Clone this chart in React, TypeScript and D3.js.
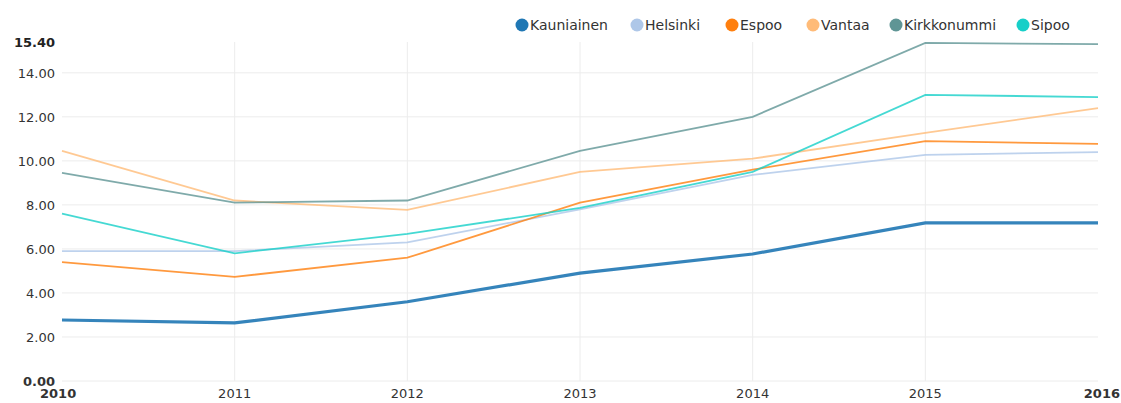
import React from "react";
import * as d3 from "d3";

const years = [2010, 2011, 2012, 2013, 2014, 2015, 2016];
const seriesNames = ["Kauniainen", "Helsinki", "Espoo", "Vantaa", "Kirkkonummi", "Sipoo"];
const colors = ["#1f77b4", "#aec7e8", "#ff7f0e", "#ffbb78", "#5f9595", "#17cfc8"];

const kauniainen = [2.77, 2.64, 3.6, 4.9, 5.77, 7.18, 7.18];
const helsinki = [5.9, 5.9, 6.3, 7.8, 9.36, 10.27, 10.4];
const espoo = [5.4, 4.73, 5.6, 8.1, 9.6, 10.9, 10.77];
const vantaa = [10.45, 8.2, 7.77, 9.5, 10.1, 11.27, 12.4];
const kirkkonummi = [9.45, 8.1, 8.2, 10.45, 12.0, 15.36, 15.3];
const sipoo = [7.6, 5.8, 6.68, 7.86, 9.5, 13.0, 12.9];

const yTicks = [0, 2, 4, 6, 8, 10, 12, 14];
const yMax = 15.4;

// legend marker x positions
const legendX = [522, 637, 732, 813, 896, 1023];

const App = () => {
    const width = 1121;
    const height = 403;
    const left = 62, right = 1098, top = 42, bottom = 381;

    const x = d3.scaleLinear().domain([2010, 2016]).range([left, right]);
    const y = d3.scaleLinear().domain([0, yMax]).range([bottom, top]);

    const allSeries = [kauniainen, helsinki, espoo, vantaa, kirkkonummi, sipoo];

    const line = d3
        .line<number>()
        .x((d, i) => x(years[i]))
        .y((d) => y(d));

    const font = "'DejaVu Sans', sans-serif";

    return (
        <svg width={width} height={height} style={{ position: "absolute", left: 0, top: 0, background: "#fff" }}>
            {/* grid */}
            {yTicks.map((t) => (
                <line key={"h" + t} x1={left} x2={right} y1={y(t)} y2={y(t)} stroke="#ececec" strokeWidth={1} />
            ))}
            {years.slice(1, -1).map((yr) => (
                <line key={"v" + yr} x1={x(yr)} x2={x(yr)} y1={top} y2={bottom} stroke="#ececec" strokeWidth={1} />
            ))}

            {/* lines, Kauniainen last so it sits on top */}
            {allSeries.map((s, i) => i === 0 ? null : (
                <path key={seriesNames[i]} d={line(s) || ""} fill="none" stroke={colors[i]} strokeWidth={1.8} strokeOpacity={0.8} />
            ))}
            <path d={line(kauniainen) || ""} fill="none" stroke={colors[0]} strokeWidth={3.2} strokeOpacity={0.9} />

            {/* y axis labels */}
            {yTicks.map((t) => (
                <text key={"yl" + t} x={55} y={y(t) + 5} textAnchor="end" fontFamily={font} fontSize={13}
                    fill="#333" fontWeight={t === 0 ? "bold" : "normal"}>
                    {t.toFixed(2)}
                </text>
            ))}
            <text x={55} y={y(yMax) + 5} textAnchor="end" fontFamily={font} fontSize={13} fill="#222" fontWeight="bold">
                {yMax.toFixed(2)}
            </text>

            {/* x axis labels */}
            {years.map((yr, i) => (
                <text key={"xl" + yr} x={i === 0 ? x(yr) - 22 : i === years.length - 1 ? x(yr) + 22 : x(yr)} y={398}
                    textAnchor={i === 0 ? "start" : i === years.length - 1 ? "end" : "middle"}
                    fontFamily={font} fontSize={13} fill="#333"
                    fontWeight={i === 0 || i === years.length - 1 ? "bold" : "normal"}>
                    {yr}
                </text>
            ))}

            {/* legend */}
            {seriesNames.map((n, i) => (
                <g key={"lg" + n} transform={`translate(${legendX[i]},25)`}>
                    <circle cx={0} cy={0} r={6.5} fill={colors[i]} />
                    <text x={8} y={5} fontFamily={font} fontSize={14} fill="#333">{n}</text>
                </g>
            ))}
        </svg>
    );
};

export default App;
